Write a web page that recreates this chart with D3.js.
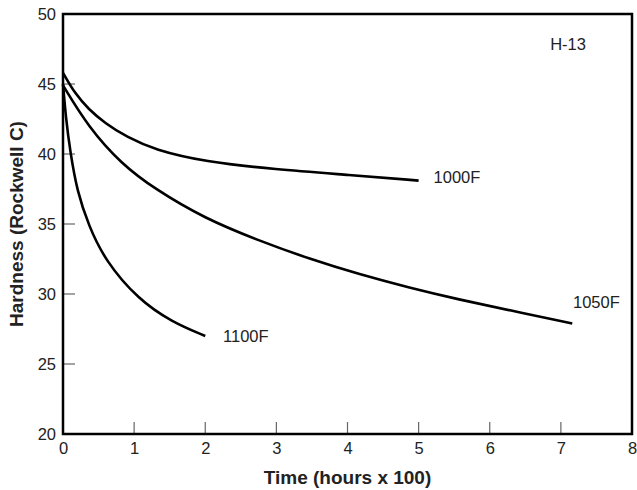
<!DOCTYPE html>
<html>
<head>
<meta charset="utf-8">
<script src="https://cdn.jsdelivr.net/npm/d3@7"></script>
<style>
  body { margin: 0; background: #fff; }
  text { font-family: "Liberation Sans", Arial, sans-serif; fill: #222; }
</style>
</head>
<body>
<svg id="chart" width="637" height="490"></svg>
<script>
// datos (tiempo en horas x 100, dureza HRC)
var t1000 = [0, 0.17, 0.36, 0.59, 0.9, 1.29, 1.99, 2.98, 4.03, 5];
var h1000 = [45.8, 44.3, 43.2, 42.2, 41.2, 40.3, 39.45, 38.9, 38.5, 38.1];

var t1050 = [0, 0.36, 0.82, 1.29, 1.99, 2.76, 3.47, 4.17, 4.87, 5.57, 6.27, 7.16];
var h1050 = [44.9, 41.9, 39.3, 37.5, 35.4, 33.8, 32.5, 31.4, 30.45, 29.6, 28.85, 27.9];

var t1100 = [0, 0.04, 0.1, 0.2, 0.36, 0.59, 1.06, 1.53, 2];
var h1100 = [45, 42.6, 40.2, 37.3, 34.9, 32.4, 29.6, 28.0, 27];

var xTicks = [0, 1, 2, 3, 4, 5, 6, 7, 8];
var yTicks = [20, 25, 30, 35, 40, 45, 50];

var etiquetas = [
  {texto: "1000F", t: 5.21, h: 37.9},
  {texto: "1050F", t: 7.17, h: 29.0},
  {texto: "1100F", t: 2.25, h: 26.6},
  {texto: "H-13", t: 6.85, h: 47.4}
];

var svg = d3.select("#chart");
var margin = {top: 14, left: 63, bottom: 56, right: 5};
var width = 637 - margin.left - margin.right;
var height = 490 - margin.top - margin.bottom;

var x = d3.scaleLinear().domain([0, 8]).range([margin.left, margin.left + width]);
var y = d3.scaleLinear().domain([20, 50]).range([margin.top + height, margin.top]);

//**************************TICKS***********************************//
var xAxis = d3.axisBottom(x).tickValues(xTicks).tickSize(0).tickPadding(8);
svg.append("g")
  .attr("transform", "translate(0," + y(20) + ")")
  .call(xAxis)
  .call(function(g) { g.select(".domain").remove(); })
  .selectAll("text").style("font-size", "16.5px").attr("fill", "#222");

var yAxis = d3.axisLeft(y).tickValues(yTicks).tickSize(0).tickPadding(7);
svg.append("g")
  .attr("transform", "translate(" + x(0) + ",0)")
  .call(yAxis)
  .call(function(g) { g.select(".domain").remove(); })
  .selectAll("text").style("font-size", "16.5px").attr("fill", "#222");

// marcas interiores
svg.selectAll(".xtick").data(xTicks.slice(1, -1)).enter().append("line")
  .attr("x1", function(d) { return x(d); }).attr("x2", function(d) { return x(d); })
  .attr("y1", y(20)).attr("y2", y(20) - 12)
  .attr("stroke", "#666").attr("stroke-width", 1.2);
svg.selectAll(".ytick").data(yTicks.slice(1, -1)).enter().append("line")
  .attr("x1", x(0)).attr("x2", x(0) + 12)
  .attr("y1", function(d) { return y(d); }).attr("y2", function(d) { return y(d); })
  .attr("stroke", "#666").attr("stroke-width", 1.2);

// marco
svg.append("rect")
  .attr("x", x(0)).attr("y", y(50))
  .attr("width", x(8) - x(0)).attr("height", y(20) - y(50))
  .attr("fill", "none").attr("stroke", "#000").attr("stroke-width", 2.5);

//**************************CURVAS***********************************//
var linea = d3.line()
  .x(function(d) { return x(d[0]); })
  .y(function(d) { return y(d[1]); })
  .curve(d3.curveBasis);

[[t1000, h1000], [t1050, h1050], [t1100, h1100]].forEach(function(s) {
  svg.append("path")
    .datum(d3.zip(s[0], s[1]))
    .attr("d", linea)
    .attr("fill", "none")
    .attr("stroke", "#000")
    .attr("stroke-width", 2.6);
});

svg.selectAll(".etq").data(etiquetas).enter().append("text")
  .attr("x", function(d) { return x(d.t); })
  .attr("y", function(d) { return y(d.h); })
  .style("font-size", "16.5px")
  .text(function(d) { return d.texto; });

//**************************TITULOS***********************************//
svg.append("text")
  .attr("x", (x(0) + x(8)) / 2)
  .attr("y", 484)
  .attr("text-anchor", "middle")
  .style("font-size", "19px").style("font-weight", "bold")
  .attr("fill", "#111")
  .text("Time (hours x 100)");

svg.append("text")
  .attr("transform", "translate(23," + (y(35)) + ") rotate(-90)")
  .attr("text-anchor", "middle")
  .style("font-size", "19px").style("font-weight", "bold")
  .attr("fill", "#111")
  .text("Hardness (Rockwell C)");
</script>
</body>
</html>
